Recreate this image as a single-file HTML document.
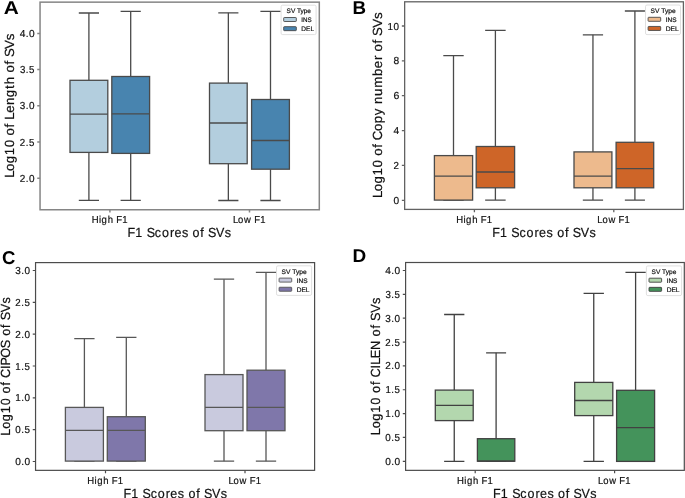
<!DOCTYPE html><html><head><meta charset="utf-8"><style>html,body{margin:0;padding:0;background:#fff;overflow:hidden;}svg{display:block;}text{font-family:"Liberation Sans",sans-serif;}</style></head><body>
<svg width="685" height="498" viewBox="0 0 685 498" text-rendering="geometricPrecision">
<rect x="0" y="0" width="685" height="498" fill="#fff"/>
<g><path d="M88.9 80.3V13M88.9 152.4V200.4" stroke="#4a4a4a" stroke-width="1.3" fill="none"/><path d="M79.45 13H98.35M79.45 200.4H98.35" stroke="#4a4a4a" stroke-width="1.3" stroke-linecap="square" fill="none"/><rect x="70" y="80.3" width="37.8" height="72.1" fill="#b3cede" stroke="#4a4a4a" stroke-width="1.3"/><path d="M70 114.2H107.8" stroke="#4a4a4a" stroke-width="1.3"/><path d="M130.7 76.5V11.4M130.7 153.4V200.4" stroke="#4a4a4a" stroke-width="1.3" fill="none"/><path d="M121.25 11.4H140.15M121.25 200.4H140.15" stroke="#4a4a4a" stroke-width="1.3" stroke-linecap="square" fill="none"/><rect x="111.8" y="76.5" width="37.8" height="76.9" fill="#4884af" stroke="#4a4a4a" stroke-width="1.3"/><path d="M111.8 113.8H149.6" stroke="#4a4a4a" stroke-width="1.3"/><path d="M228.35 83.1V12.8M228.35 163.7V200.5" stroke="#4a4a4a" stroke-width="1.3" fill="none"/><path d="M218.93 12.8H237.77M218.93 200.5H237.77" stroke="#4a4a4a" stroke-width="1.3" stroke-linecap="square" fill="none"/><rect x="209.5" y="83.1" width="37.7" height="80.6" fill="#b3cede" stroke="#4a4a4a" stroke-width="1.3"/><path d="M209.5 123H247.2" stroke="#4a4a4a" stroke-width="1.3"/><path d="M270.5 99.5V11.4M270.5 169.2V200.5" stroke="#4a4a4a" stroke-width="1.3" fill="none"/><path d="M261.05 11.4H279.95M261.05 200.5H279.95" stroke="#4a4a4a" stroke-width="1.3" stroke-linecap="square" fill="none"/><rect x="251.6" y="99.5" width="37.8" height="69.7" fill="#4884af" stroke="#4a4a4a" stroke-width="1.3"/><path d="M251.6 140.5H289.4" stroke="#4a4a4a" stroke-width="1.3"/><rect x="40.05" y="2.15" width="279.25" height="207.6" fill="none" stroke="#858585" stroke-width="1.5"/><path d="M37.25 33.4H40.05M37.25 69.6H40.05M37.25 105.8H40.05M37.25 142H40.05M37.25 178.2H40.05M109.9 209.75V212.55M249.5 209.75V212.55" stroke="#858585" stroke-width="1.5" fill="none"/><rect x="281.1" y="5.2" width="35" height="29.4" rx="1.5" fill="#fff" fill-opacity="0.9" stroke="#d8d8d8" stroke-width="0.8"/><rect x="283.7" y="17.5" width="12.6" height="4" rx="0.6" fill="#b3cede" stroke="#4a4a4a" stroke-width="0.9"/><rect x="283.7" y="26.65" width="12.6" height="4" rx="0.6" fill="#4884af" stroke="#4a4a4a" stroke-width="0.9"/></g>
<g><path d="M453.5 155.6V55.7M453.5 200.1V200.1" stroke="#4a4a4a" stroke-width="1.3" fill="none"/><path d="M443.95 55.7H463.05M443.95 200.1H463.05" stroke="#4a4a4a" stroke-width="1.3" stroke-linecap="square" fill="none"/><rect x="434.4" y="155.6" width="38.2" height="44.5" fill="#edba8d" stroke="#4a4a4a" stroke-width="1.3"/><path d="M434.4 176.1H472.6" stroke="#4a4a4a" stroke-width="1.3"/><path d="M495.4 146.5V30.4M495.4 187.8V200.1" stroke="#4a4a4a" stroke-width="1.3" fill="none"/><path d="M485.8 30.4H505M485.8 200.1H505" stroke="#4a4a4a" stroke-width="1.3" stroke-linecap="square" fill="none"/><rect x="476.2" y="146.5" width="38.4" height="41.3" fill="#ce6528" stroke="#4a4a4a" stroke-width="1.3"/><path d="M476.2 172H514.6" stroke="#4a4a4a" stroke-width="1.3"/><path d="M592.95 151.9V34.8M592.95 187.8V200.1" stroke="#4a4a4a" stroke-width="1.3" fill="none"/><path d="M583.48 34.8H602.43M583.48 200.1H602.43" stroke="#4a4a4a" stroke-width="1.3" stroke-linecap="square" fill="none"/><rect x="574" y="151.9" width="37.9" height="35.9" fill="#edba8d" stroke="#4a4a4a" stroke-width="1.3"/><path d="M574 176.1H611.9" stroke="#4a4a4a" stroke-width="1.3"/><path d="M634.9 142.3V11M634.9 187.8V200.1" stroke="#4a4a4a" stroke-width="1.3" fill="none"/><path d="M625.5 11H644.3M625.5 200.1H644.3" stroke="#4a4a4a" stroke-width="1.3" stroke-linecap="square" fill="none"/><rect x="616.1" y="142.3" width="37.6" height="45.5" fill="#ce6528" stroke="#4a4a4a" stroke-width="1.3"/><path d="M616.1 168.7H653.7" stroke="#4a4a4a" stroke-width="1.3"/><rect x="404.65" y="1.8" width="278.75" height="207.6" fill="none" stroke="#626262" stroke-width="1.3"/><path d="M401.85 26H404.65M401.85 60.86H404.65M401.85 95.72H404.65M401.85 130.58H404.65M401.85 165.44H404.65M401.85 200.3H404.65M474.4 209.4V212.2M613.8 209.4V212.2" stroke="#626262" stroke-width="1.3" fill="none"/><rect x="645.5" y="5" width="35" height="29.6" rx="1.5" fill="#fff" fill-opacity="0.9" stroke="#d8d8d8" stroke-width="0.8"/><rect x="648.1" y="17.3" width="12.6" height="4" rx="0.6" fill="#edba8d" stroke="#4a4a4a" stroke-width="0.9"/><rect x="648.1" y="26.45" width="12.6" height="4" rx="0.6" fill="#ce6528" stroke="#4a4a4a" stroke-width="0.9"/></g>
<g><path d="M84.4 407.4V338.7M84.4 461.1V461.1" stroke="#575757" stroke-width="1.3" fill="none"/><path d="M74.9 338.7H93.9M74.9 461.1H93.9" stroke="#575757" stroke-width="1.3" stroke-linecap="square" fill="none"/><rect x="65.4" y="407.4" width="38" height="53.7" fill="#c9cade" stroke="#575757" stroke-width="1.3"/><path d="M65.4 430.4H103.4" stroke="#575757" stroke-width="1.3"/><path d="M126.3 416.7V337.3M126.3 461.1V461.1" stroke="#575757" stroke-width="1.3" fill="none"/><path d="M116.8 337.3H135.8M116.8 461.1H135.8" stroke="#575757" stroke-width="1.3" stroke-linecap="square" fill="none"/><rect x="107.3" y="416.7" width="38" height="44.4" fill="#7f77aa" stroke="#575757" stroke-width="1.3"/><path d="M107.3 430.4H145.3" stroke="#575757" stroke-width="1.3"/><path d="M224 374.6V279.2M224 430.7V461.2" stroke="#575757" stroke-width="1.3" fill="none"/><path d="M214.5 279.2H233.5M214.5 461.2H233.5" stroke="#575757" stroke-width="1.3" stroke-linecap="square" fill="none"/><rect x="205" y="374.6" width="38" height="56.1" fill="#c9cade" stroke="#575757" stroke-width="1.3"/><path d="M205 407.3H243" stroke="#575757" stroke-width="1.3"/><path d="M266 370.2V272.4M266 430.7V461.2" stroke="#575757" stroke-width="1.3" fill="none"/><path d="M256.5 272.4H275.5M256.5 461.2H275.5" stroke="#575757" stroke-width="1.3" stroke-linecap="square" fill="none"/><rect x="247" y="370.2" width="38" height="60.5" fill="#7f77aa" stroke="#575757" stroke-width="1.3"/><path d="M247 407.3H285" stroke="#575757" stroke-width="1.3"/><rect x="35.55" y="262.6" width="279.05" height="207.75" fill="none" stroke="#4c4c4c" stroke-width="1.2"/><path d="M32.75 270.5H35.55M32.75 302.3H35.55M32.75 334.2H35.55M32.75 366H35.55M32.75 397.8H35.55M32.75 429.7H35.55M32.75 461.5H35.55M105.5 470.35V473.15M245 470.35V473.15" stroke="#4c4c4c" stroke-width="1.2" fill="none"/><rect x="276.5" y="265.8" width="35.1" height="29.6" rx="1.5" fill="#fff" fill-opacity="0.9" stroke="#d8d8d8" stroke-width="0.8"/><rect x="279.1" y="278.1" width="12.6" height="4" rx="0.6" fill="#c9cade" stroke="#575757" stroke-width="0.9"/><rect x="279.1" y="287.25" width="12.6" height="4" rx="0.6" fill="#7f77aa" stroke="#575757" stroke-width="0.9"/></g>
<g><path d="M454.25 390.1V314.5M454.25 420.6V461.4" stroke="#414141" stroke-width="1.3" fill="none"/><path d="M444.77 314.5H463.73M444.77 461.4H463.73" stroke="#414141" stroke-width="1.3" stroke-linecap="square" fill="none"/><rect x="435.3" y="390.1" width="37.9" height="30.5" fill="#b3d7ae" stroke="#414141" stroke-width="1.3"/><path d="M435.3 405.3H473.2" stroke="#414141" stroke-width="1.3"/><path d="M496.1 438.7V352.8M496.1 461.2V461.2" stroke="#414141" stroke-width="1.3" fill="none"/><path d="M486.75 352.8H505.45M486.75 461.2H505.45" stroke="#414141" stroke-width="1.3" stroke-linecap="square" fill="none"/><rect x="477.4" y="438.7" width="37.4" height="22.5" fill="#44935b" stroke="#414141" stroke-width="1.3"/><path d="M477.4 461.2H514.8" stroke="#414141" stroke-width="1.3"/><path d="M593.75 382.4V293.4M593.75 415.6V461.4" stroke="#414141" stroke-width="1.3" fill="none"/><path d="M584.23 293.4H603.27M584.23 461.4H603.27" stroke="#414141" stroke-width="1.3" stroke-linecap="square" fill="none"/><rect x="574.7" y="382.4" width="38.1" height="33.2" fill="#b3d7ae" stroke="#414141" stroke-width="1.3"/><path d="M574.7 400.5H612.8" stroke="#414141" stroke-width="1.3"/><path d="M635.6 390.3V272.3M635.6 461.4V461.4" stroke="#414141" stroke-width="1.3" fill="none"/><path d="M626.1 272.3H645.1M626.1 461.4H645.1" stroke="#414141" stroke-width="1.3" stroke-linecap="square" fill="none"/><rect x="616.6" y="390.3" width="38" height="71.1" fill="#44935b" stroke="#414141" stroke-width="1.3"/><path d="M616.6 427.6H654.6" stroke="#414141" stroke-width="1.3"/><rect x="405.6" y="262.5" width="278.7" height="207.85" fill="none" stroke="#4c4c4c" stroke-width="1.2"/><path d="M402.8 270.5H405.6M402.8 294.35H405.6M402.8 318.2H405.6M402.8 342.05H405.6M402.8 365.9H405.6M402.8 389.75H405.6M402.8 413.6H405.6M402.8 437.45H405.6M402.8 461.3H405.6M475.2 470.35V473.15M614.6 470.35V473.15" stroke="#4c4c4c" stroke-width="1.2" fill="none"/><rect x="646.4" y="265.9" width="35.2" height="29.7" rx="1.5" fill="#fff" fill-opacity="0.9" stroke="#d8d8d8" stroke-width="0.8"/><rect x="649" y="278.2" width="12.6" height="4" rx="0.6" fill="#b3d7ae" stroke="#414141" stroke-width="0.9"/><rect x="649" y="287.35" width="12.6" height="4" rx="0.6" fill="#44935b" stroke="#414141" stroke-width="0.9"/></g>
<g style="filter:grayscale(1)"><text x="3.83" y="14.25" font-size="18.5" font-weight="bold" textLength="15.05" lengthAdjust="spacingAndGlyphs" fill="#000">A</text><text x="286.57" y="13.35" font-size="6.5" textLength="24.37" lengthAdjust="spacingAndGlyphs" fill="#111" stroke="#111" stroke-width="0.2">SV Type</text><text x="301.36" y="22.46" font-size="6.5" textLength="10.37" lengthAdjust="spacingAndGlyphs" fill="#111" stroke="#111" stroke-width="0.2">INS</text><text x="301.36" y="31.43" font-size="6.5" textLength="12.64" lengthAdjust="spacingAndGlyphs" fill="#111" stroke="#111" stroke-width="0.2">DEL</text><text x="352.46" y="14.25" font-size="18.5" font-weight="bold" textLength="13.56" lengthAdjust="spacingAndGlyphs" fill="#000">B</text><text x="650.64" y="13.21" font-size="6.5" textLength="25" lengthAdjust="spacingAndGlyphs" fill="#111" stroke="#111" stroke-width="0.2">SV Type</text><text x="665.67" y="22.23" font-size="6.5" textLength="10.83" lengthAdjust="spacingAndGlyphs" fill="#111" stroke="#111" stroke-width="0.2">INS</text><text x="665.67" y="31.18" font-size="6.5" textLength="13.09" lengthAdjust="spacingAndGlyphs" fill="#111" stroke="#111" stroke-width="0.2">DEL</text><text x="1.91" y="263.89" font-size="18.5" font-weight="bold" textLength="13.38" lengthAdjust="spacingAndGlyphs" fill="#000">C</text><text x="281.64" y="274.15" font-size="6.5" textLength="25" lengthAdjust="spacingAndGlyphs" fill="#111" stroke="#111" stroke-width="0.2">SV Type</text><text x="296.68" y="282.67" font-size="6.5" textLength="10.83" lengthAdjust="spacingAndGlyphs" fill="#111" stroke="#111" stroke-width="0.2">INS</text><text x="296.68" y="291.52" font-size="6.5" textLength="12.74" lengthAdjust="spacingAndGlyphs" fill="#111" stroke="#111" stroke-width="0.2">DEL</text><text x="352.46" y="262.25" font-size="18.5" font-weight="bold" textLength="13.74" lengthAdjust="spacingAndGlyphs" fill="#000">D</text><text x="651.61" y="274.25" font-size="6.5" textLength="24.75" lengthAdjust="spacingAndGlyphs" fill="#111" stroke="#111" stroke-width="0.2">SV Type</text><text x="666.64" y="282.65" font-size="6.5" textLength="10.79" lengthAdjust="spacingAndGlyphs" fill="#111" stroke="#111" stroke-width="0.2">INS</text><text x="666.66" y="292.09" font-size="6.5" textLength="12.88" lengthAdjust="spacingAndGlyphs" fill="#111" stroke="#111" stroke-width="0.2">DEL</text><text transform="translate(19.53,36.95) scale(0.9972,1)" x="0.23 6.24 9.42" y="0" font-size="10.17" fill="#111" stroke="#111" stroke-width="0.2">4.0</text><text transform="translate(19.53,73.15) scale(0.9539,1)" x="0.38 6.58 9.93" y="0" font-size="10.17" fill="#111" stroke="#111" stroke-width="0.2">3.5</text><text transform="translate(19.53,109.35) scale(0.9794,1)" x="0.3 6.38 9.64" y="0" font-size="10.17" fill="#111" stroke="#111" stroke-width="0.2">3.0</text><text transform="translate(19.53,145.55) scale(0.9554,1)" x="0.23 6.57 9.91" y="0" font-size="10.17" fill="#111" stroke="#111" stroke-width="0.2">2.5</text><text transform="translate(19.53,181.75) scale(0.9814,1)" x="0.15 6.36 9.61" y="0" font-size="10.17" fill="#111" stroke="#111" stroke-width="0.2">2.0</text><text transform="translate(91.52,222.7) scale(0.9466,1)" x="0.14 7.83 10.66 17.09 18.09 26.06 32.37" y="0" font-size="10.07" fill="#111" stroke="#111" stroke-width="0.2">High F1</text><text transform="translate(232.68,222.7) scale(0.9376,1)" x="0.25 5.77 12.17 13.17 23 29.38" y="0" font-size="10.07" fill="#111" stroke="#111" stroke-width="0.2">Low F1</text><text transform="translate(127.79,237.3) scale(0.9491,1)" x="-0.27 7.98 8.98 19.9 28.54 35.95 44.39 49.12 57.01 58.01 68.15 76.48 77.48 84.45 93.03 102.13" y="0" font-size="13.19" fill="#111" stroke="#111" stroke-width="0.2">F1 Scores of SVs</text><text transform="translate(14.4,177.85) rotate(-90) scale(1.0048,1)" x="0.04 6.83 14.49 22.39 30.36 31.36 42.06 50.04 51.04 57.89 64.73 72.48 80.26 88.52 93.09 94.09 104.77 112.75 113.75 120.16 128.28 136.96" y="0" font-size="13.22" fill="#111" stroke="#111" stroke-width="0.2">Log10 of Length of SVs</text><text transform="translate(387.18,29.55) scale(0.9737,1)" x="0.26 6.58" y="0" font-size="10.17" fill="#111" stroke="#111" stroke-width="0.2">10</text><text transform="translate(393.29,64.41) scale(1.0056,1)" x="0.21" y="0" font-size="10.17" fill="#111" stroke="#111" stroke-width="0.2">8</text><text transform="translate(393.29,99.27) scale(1.0296,1)" x="0.13" y="0" font-size="10.17" fill="#111" stroke="#111" stroke-width="0.2">6</text><text transform="translate(393.29,134.13) scale(0.9950,1)" x="0.24" y="0" font-size="10.17" fill="#111" stroke="#111" stroke-width="0.2">4</text><text transform="translate(393.29,168.99) scale(0.9589,1)" x="0.22" y="0" font-size="10.17" fill="#111" stroke="#111" stroke-width="0.2">2</text><text transform="translate(393.29,203.85) scale(0.9949,1)" x="0.24" y="0" font-size="10.17" fill="#111" stroke="#111" stroke-width="0.2">0</text><text transform="translate(456.02,222.7) scale(0.9466,1)" x="0.14 7.83 10.66 17.09 18.09 26.06 32.37" y="0" font-size="10.07" fill="#111" stroke="#111" stroke-width="0.2">High F1</text><text transform="translate(596.98,222.7) scale(0.9376,1)" x="0.25 5.77 12.17 13.17 23 29.38" y="0" font-size="10.07" fill="#111" stroke="#111" stroke-width="0.2">Low F1</text><text transform="translate(492.49,237.3) scale(0.9491,1)" x="-0.27 7.98 8.98 19.9 28.54 35.95 44.39 49.12 57.01 58.01 68.15 76.48 77.48 84.45 93.03 102.13" y="0" font-size="13.19" fill="#111" stroke="#111" stroke-width="0.2">F1 Scores of SVs</text><text transform="translate(381.5,198) rotate(-90) scale(1.0028,1)" x="0.04 6.85 14.53 22.44 30.43 31.43 42.15 50.15 51.15 57.47 66.8 74.63 82.55 83.55 93.79 101.62 109.86 121.74 129.47 137.54 138.54 146.16 154.15 155.15 161.58 169.72 178.41" y="0" font-size="13.22" fill="#111" stroke="#111" stroke-width="0.2">Log10 of Copy number of SVs</text><text transform="translate(15.03,274.05) scale(0.9794,1)" x="0.3 6.38 9.64" y="0" font-size="10.17" fill="#111" stroke="#111" stroke-width="0.2">3.0</text><text transform="translate(15.03,305.85) scale(0.9554,1)" x="0.23 6.57 9.91" y="0" font-size="10.17" fill="#111" stroke="#111" stroke-width="0.2">2.5</text><text transform="translate(15.03,337.75) scale(0.9814,1)" x="0.15 6.36 9.61" y="0" font-size="10.17" fill="#111" stroke="#111" stroke-width="0.2">2.0</text><text transform="translate(15.03,369.55) scale(0.9516,1)" x="0.33 6.6 9.96" y="0" font-size="10.17" fill="#111" stroke="#111" stroke-width="0.2">1.5</text><text transform="translate(15.03,401.35) scale(0.9782,1)" x="0.24 6.39 9.65" y="0" font-size="10.17" fill="#111" stroke="#111" stroke-width="0.2">1.0</text><text transform="translate(15.03,433.25) scale(0.9719,1)" x="0.31 6.44 9.7" y="0" font-size="10.17" fill="#111" stroke="#111" stroke-width="0.2">0.5</text><text transform="translate(15.03,465.05) scale(0.9972,1)" x="0.23 6.24 9.42" y="0" font-size="10.17" fill="#111" stroke="#111" stroke-width="0.2">0.0</text><text transform="translate(87.12,483.5) scale(0.9466,1)" x="0.14 7.83 10.66 17.09 18.09 26.06 32.37" y="0" font-size="10.07" fill="#111" stroke="#111" stroke-width="0.2">High F1</text><text transform="translate(228.18,483.5) scale(0.9376,1)" x="0.25 5.77 12.17 13.17 23 29.38" y="0" font-size="10.07" fill="#111" stroke="#111" stroke-width="0.2">Low F1</text><text transform="translate(123.74,497.6) scale(0.9491,1)" x="-0.27 7.98 8.98 19.9 28.54 35.95 44.39 49.12 57.01 58.01 68.15 76.48 77.48 84.45 93.03 102.13" y="0" font-size="13.19" fill="#111" stroke="#111" stroke-width="0.2">F1 Scores of SVs</text><text transform="translate(9.7,435.91) rotate(-90) scale(0.9549,1)" x="0.25 7.38 15.44 23.76 32.14 33.14 44.45 52.76 53.76 60.6 70.1 73.62 81.75 91.84 92.84 104.81 113.12 114.12 121.04 129.59 138.66" y="0" font-size="13.22" fill="#111" stroke="#111" stroke-width="0.2">Log10 of CIPOS of SVs</text><text transform="translate(385.08,274.05) scale(0.9972,1)" x="0.23 6.24 9.42" y="0" font-size="10.17" fill="#111" stroke="#111" stroke-width="0.2">4.0</text><text transform="translate(385.08,297.9) scale(0.9539,1)" x="0.38 6.58 9.93" y="0" font-size="10.17" fill="#111" stroke="#111" stroke-width="0.2">3.5</text><text transform="translate(385.08,321.75) scale(0.9794,1)" x="0.3 6.38 9.64" y="0" font-size="10.17" fill="#111" stroke="#111" stroke-width="0.2">3.0</text><text transform="translate(385.08,345.6) scale(0.9554,1)" x="0.23 6.57 9.91" y="0" font-size="10.17" fill="#111" stroke="#111" stroke-width="0.2">2.5</text><text transform="translate(385.08,369.45) scale(0.9814,1)" x="0.15 6.36 9.61" y="0" font-size="10.17" fill="#111" stroke="#111" stroke-width="0.2">2.0</text><text transform="translate(385.08,393.3) scale(0.9516,1)" x="0.33 6.6 9.96" y="0" font-size="10.17" fill="#111" stroke="#111" stroke-width="0.2">1.5</text><text transform="translate(385.08,417.15) scale(0.9782,1)" x="0.24 6.39 9.65" y="0" font-size="10.17" fill="#111" stroke="#111" stroke-width="0.2">1.0</text><text transform="translate(385.08,441) scale(0.9719,1)" x="0.31 6.44 9.7" y="0" font-size="10.17" fill="#111" stroke="#111" stroke-width="0.2">0.5</text><text transform="translate(385.08,464.85) scale(0.9972,1)" x="0.23 6.24 9.42" y="0" font-size="10.17" fill="#111" stroke="#111" stroke-width="0.2">0.0</text><text transform="translate(456.82,483.5) scale(0.9466,1)" x="0.14 7.83 10.66 17.09 18.09 26.06 32.37" y="0" font-size="10.07" fill="#111" stroke="#111" stroke-width="0.2">High F1</text><text transform="translate(597.78,483.5) scale(0.9376,1)" x="0.25 5.77 12.17 13.17 23 29.38" y="0" font-size="10.07" fill="#111" stroke="#111" stroke-width="0.2">Low F1</text><text transform="translate(493.29,497.6) scale(0.9491,1)" x="-0.27 7.98 8.98 19.9 28.54 35.95 44.39 49.12 57.01 58.01 68.15 76.48 77.48 84.45 93.03 102.13" y="0" font-size="13.19" fill="#111" stroke="#111" stroke-width="0.2">F1 Scores of SVs</text><text transform="translate(379.8,435.36) rotate(-90) scale(0.9632,1)" x="0.21 7.28 15.27 23.52 31.83 32.83 44.04 52.29 53.29 60.03 69.47 73.43 80.08 88.69 89.69 102.72 110.97 111.97 118.81 127.28 136.29" y="0" font-size="13.22" fill="#111" stroke="#111" stroke-width="0.2">Log10 of CILEN of SVs</text></g>
</svg></body></html>
